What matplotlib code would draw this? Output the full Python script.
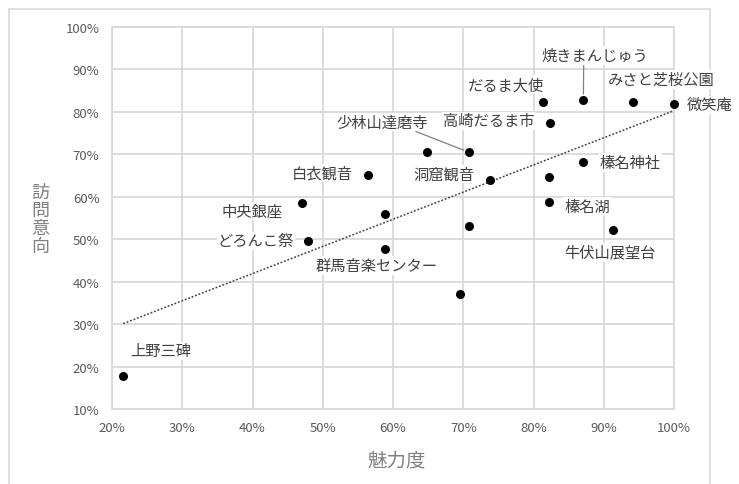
import matplotlib
matplotlib.use("Agg")
import matplotlib.pyplot as plt
from matplotlib.patches import Rectangle
import numpy as np

plt.rcParams['font.family'] = ['Noto Sans CJK JP', 'DejaVu Sans']

# 魅力度 (x) and 訪問意向 (y), in %
attraction = [21.6, 47.1, 47.9, 56.5, 58.9, 58.9, 64.9, 70.8, 70.8, 69.6,
              73.8, 81.4, 87.1, 94.1, 100.0, 82.4, 87.1, 82.2, 82.2, 91.3]
intention = [17.8, 58.5, 49.6, 65.1, 55.9, 47.6, 70.5, 70.5, 53.2, 37.2,
             63.9, 82.4, 82.9, 82.4, 81.9, 77.4, 68.1, 64.6, 58.7, 52.1]
names = ["上野三碑", "中央銀座", "どろんこ祭", "白衣観音", "", "群馬音楽センター",
         "洞窟観音", "少林山達磨寺", "", "", "", "だるま大使", "焼きまんじゅう",
         "みさと芝桜公園", "微笑庵", "高崎だるま市", "榛名神社", "", "榛名湖",
         "牛伏山展望台"]

# label offsets in pixels, and which labels get a leader line (relpos)
offsets = {
    "上野三碑": (37, 25), "中央銀座": (-50, -8), "どろんこ祭": (-52, 0),
    "白衣観音": (-46, 2), "群馬音楽センター": (-9, -16), "洞窟観音": (16, -22),
    "少林山達磨寺": (-87, 30), "だるま大使": (-37, 17), "焼きまんじゅう": (11, 44),
    "みさと芝桜公園": (29, 22), "微笑庵": (36, -1), "高崎だるま市": (-62, 2),
    "榛名神社": (47, 0), "榛名湖": (38, -4), "牛伏山展望台": (-3, -22),
}
leaders = {"少林山達磨寺": (0.85, 0.0), "焼きまんじゅう": (0.4, 0.0)}

xticks = np.arange(20, 101, 10)
yticks = np.arange(10, 101, 10)

fig = plt.figure(figsize=(7.39, 4.85), dpi=100)
ax = fig.add_axes([112 / 739, 1 - 410 / 485, 562 / 739, 382 / 485])

grid_c = '#d9d9d9'
ax.set_xlim(20, 100)
ax.set_ylim(10, 100)
ax.set_xticks(xticks)
ax.set_yticks(yticks)
ax.set_xticklabels([f"{t}%" for t in xticks])
ax.set_yticklabels([f"{t}%" for t in yticks])
ax.grid(True, color=grid_c, linewidth=1.3)
ax.set_axisbelow(True)
for s in ax.spines.values():
    s.set_color(grid_c)
    s.set_linewidth(1.3)
ax.tick_params(length=0, labelsize=9.5, labelcolor='#595959', pad=9)

# trend line
coef = np.polyfit(attraction, intention, 1)
tx = np.array([min(attraction), max(attraction)])
ax.plot(tx, np.polyval(coef, tx), color='#404040', linewidth=1.1,
        linestyle=(0, (1.2, 1.2)), zorder=2)

ax.scatter(attraction, intention, s=30, color='black', zorder=3, clip_on=False)

for x, y, n in zip(attraction, intention, names):
    if not n:
        continue
    dx, dy = offsets[n]
    arrow = None
    if n in leaders:
        arrow = dict(arrowstyle='-', color='#808080', lw=0.9,
                     relpos=leaders[n], shrinkA=0, shrinkB=4)
    ax.annotate(n, (x, y), xytext=(dx, dy), textcoords='offset pixels',
                ha='center', va='center', fontsize=11, color='#404040',
                bbox=dict(facecolor='white', edgecolor='none', pad=0.5),
                arrowprops=arrow, zorder=4, annotation_clip=False)

fig.text(397 / 739, 1 - 461 / 485, "魅力度", ha='center', va='center',
         fontsize=14, color='#808080')
fig.text(40 / 739, 1 - 220 / 485, "\n".join("訪問意向"), ha='center', va='center',
         fontsize=13, color='#808080', linespacing=1.0)

# chart area border
fig.add_artist(Rectangle((9 / 739, -0.1), 701 / 739, 1.1 - 10 / 485,
                         transform=fig.transFigure, fill=False,
                         edgecolor=grid_c, linewidth=1.2, zorder=0))

fig.savefig("out.png", dpi=100)
